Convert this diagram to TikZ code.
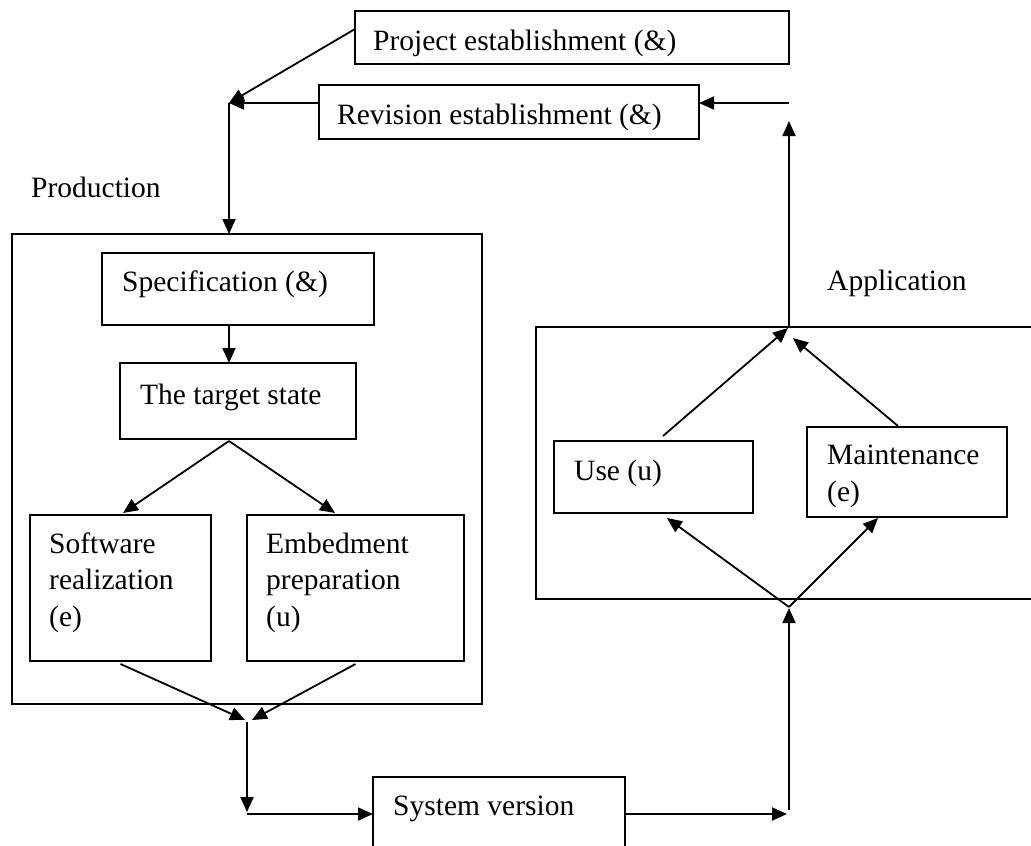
\documentclass[tikz,border=0pt]{standalone}
\usepackage{fontspec}
\setmainfont{Liberation Serif}
\usetikzlibrary{arrows.meta}
\begin{document}
\begin{tikzpicture}[x=1pt,y=-1pt,
  box/.style={draw, line width=1.9pt, rectangle, inner sep=0pt, outer sep=0pt, anchor=north west},
  txt/.style={inner sep=0pt, anchor=base west, align=left, font=\fontsize{29.5}{36.5}\selectfont},
  conn/.style={line width=1.8pt, -{Triangle[length=15pt,width=13pt]}}]
\clip (0,0) rectangle (1031,846);
\useasboundingbox (0,0) rectangle (1031,846);

% establishment boxes
\node[box, minimum width=434pt, minimum height=53pt] (proj) at (355,11) {};
\node[txt] (projT) at (373,50) {Project establishment (\&)};
\node[box, minimum width=380pt, minimum height=54pt] (rev) at (319,85) {};
\node[txt] (revT) at (337,124) {Revision establishment (\&)};

% production block
\node[txt] (prodT) at (31,197) {Production};
\node[box, minimum width=470pt, minimum height=470pt] (prod) at (12,234) {};
\node[box, minimum width=272pt, minimum height=72pt] (spec) at (102,253) {};
\node[txt] (specT) at (122,291) {Specification (\&)};
\node[box, minimum width=236pt, minimum height=76pt] (tgt) at (120,363) {};
\node[txt] (tgtT) at (140,404) {The target state};
\node[box, minimum width=181pt, minimum height=146pt] (soft) at (30,515) {};
% multi-line labels are anchored at the baseline of their last line
\node[txt] (softT) at (49,626) {Software\\realization\\(e)};
\node[box, minimum width=217pt, minimum height=146pt] (emb) at (247,515) {};
\node[txt] (embT) at (266,626) {Embedment\\preparation\\(u)};

% system version
\node[box, minimum width=252pt, minimum height=90pt] (sys) at (373,777) {};
\node[txt] (sysT) at (393,815) {System version};

% application block
\node[txt] (appT) at (827,290) {Application};
\node[box, minimum width=510pt, minimum height=272pt] (app) at (536,327) {};
\node[box, minimum width=199pt, minimum height=72pt] (use) at (554,441) {};
\node[txt] (useT) at (574,480) {Use (u)};
\node[box, minimum width=200pt, minimum height=90pt] (maint) at (807,427) {};
\node[txt] (maintT) at (827,501) {Maintenance\\(e)};

% junction points
\coordinate (jtop) at (229,103);
\coordinate (jright) at (789,103);
\coordinate (jup) at (789,327);
\coordinate (jbot) at (789,607);
\coordinate (jsys) at (789,814);
\coordinate (jmerge) at (247,720);
\coordinate (jcorner) at (247,814);

% top loop
\draw[conn] ([yshift=8.5pt]proj.west) -- (jtop);
\draw[conn] (rev.west |- jtop) -- (jtop);
\draw[conn] (jtop) -- (prod.north -| jtop);
\draw[conn] (jright) -- (rev.east |- jright);
\draw[conn] (jup) -- ([yshift=-18pt]jright);

% production flow
\draw[conn] ([xshift=-9pt]spec.south) -- ([xshift=-9pt]tgt.north);
\draw[conn] ([xshift=-9pt,yshift=-2pt]tgt.south) -- ([xshift=2.5pt,yshift=2pt]soft.north);
\draw[conn] ([xshift=-9pt,yshift=-2pt]tgt.south) -- ([xshift=-20.5pt,yshift=2pt]emb.north);
\draw[conn] ([yshift=-3pt]soft.south) -- ([xshift=-2pt]jmerge);
\draw[conn] ([yshift=-3pt]emb.south) -- ([xshift=5pt]jmerge);
\draw[conn] ([yshift=-2pt]jmerge) -- ([yshift=2pt]jcorner);
\draw[conn] (jcorner) -- (sys.west |- jcorner);

% application flow
\draw[conn] (sys.east |- jsys) -- ([xshift=-2pt]jsys);
\draw[conn] ([yshift=4pt]jsys) -- ([yshift=-1pt]jbot);
\draw[conn] (jbot) -- ([xshift=13.5pt,yshift=-5pt]use.south);
\draw[conn] (jbot) -- ([xshift=-29pt,yshift=-1pt]maint.south);
\draw[conn] ([xshift=9.5pt,yshift=5pt]use.north) -- ([xshift=-1pt,yshift=-1pt]jup);
\draw[conn] ([xshift=-9pt,yshift=1pt]maint.north) -- ([xshift=4pt,yshift=-11pt]jup);
\end{tikzpicture}
\end{document}
